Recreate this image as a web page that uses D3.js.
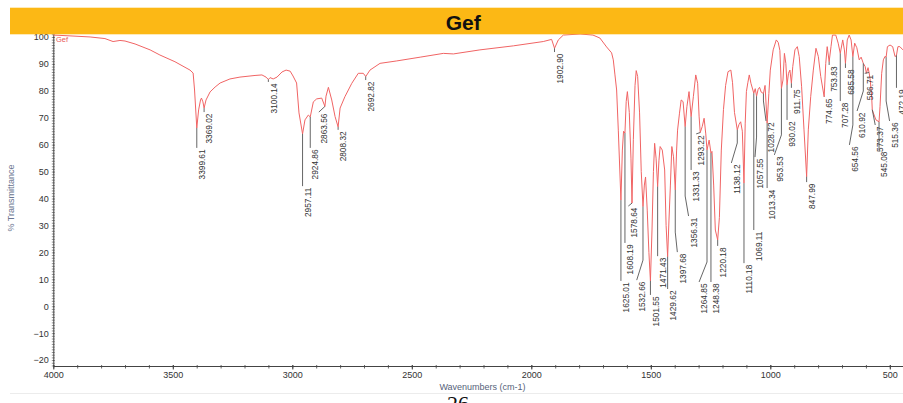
<!DOCTYPE html>
<html><head><meta charset="utf-8">
<script src="https://cdn.jsdelivr.net/npm/d3@7"></script>
<style>html,body{margin:0;padding:0;background:#fff;overflow:hidden}</style>
</head><body>
<svg id="c" width="903" height="403"></svg>
<script>
const wavenumbers = [4000,3930,3846,3784,3750,3721,3700,3658,3595,3554,3491,3428,3415,3409,3399.61,3392,3384,3380,3374,3369.02,3361,3344,3323,3302,3261,3219,3156,3127,3110,3100.14,3093,3080,3064,3043,3026,3009,2997,2982,2972,2957.11,2947,2933,2924.86,2912,2898,2877,2863.56,2859,2849,2835,2821,2808.32,2800,2780,2751,2724,2703,2692.82,2675,2633,2563,2465,2368,2326,2215,2075,1950,1915,1902.90,1887,1866,1796,1742,1713,1685,1664,1657,1650,1643,1636,1625.01,1619,1614,1608.19,1603,1598,1590,1583,1578.64,1573,1566,1561,1555,1547,1540,1532.66,1527,1522,1515,1508,1501.55,1495,1489,1484,1478,1471.43,1466,1461,1452,1442,1436,1429.62,1424,1418,1412,1405,1397.68,1392,1388,1380,1373,1365,1356.31,1349,1340,1331.33,1322,1312,1304,1298,1293.22,1285,1277,1270,1264.85,1256,1248.38,1244,1237,1230,1220.18,1213,1205,1196,1187,1177,1165,1158,1150,1138.12,1131,1124,1117,1110.18,1105,1100,1094,1088,1081,1069.11,1063,1057.55,1051,1045,1038,1028.72,1022,1013.34,1006,1000,988,975,967,960,953.53,947,941,935,930.02,924,918,911.75,906,897,887,879,869,859,847.99,841,831,820,809,799,789,774.65,768,762,753.83,746,740,726,716,707.28,697,690,685.58,678,670,662,654.56,647,638,628,620,610.92,603,598,591,586.71,582,576,573.37,569,558,545.08,541,534,527,520,515.36,510,499,488,478,472.19,466,458,445];
const transmittance = [100.7,100.4,100.0,99.4,98.3,98.7,98.5,97.4,95.2,93.3,90.8,87.7,86.6,80.3,66.2,72.9,76.6,77.3,75.9,73.6,76.6,79.6,81.4,82.9,84.4,85.1,85.7,85.9,85.1,84.2,84.9,84.4,85.1,87.0,87.7,87.3,85.5,82.9,71.8,64.0,69.2,71.0,70.3,75.9,77.0,77.3,74.2,78.0,81.3,76.6,70.4,66.6,73.6,77.8,82.8,86.5,86.5,85.3,87.7,90.2,91.1,92.5,93.9,93.7,95.2,96.7,98.3,99.1,95.8,98.9,100.7,101.1,100.7,99.6,96.3,94.1,91.5,85.9,80.3,65.4,39.4,58,65,64.3,76,79.7,72,55,38.3,62,82,87.5,85.3,71.8,50,37,45,48,35.7,20,9.4,28.3,50,60.5,55,44.4,54,59.3,58,50.6,30,18.4,32,45,59.3,55.5,43.2,58,65.4,71.7,76.6,76,66.7,74.1,79.7,70.4,77.8,85.9,82.8,70.6,64.5,66.7,69.8,64,58,61.7,56.9,57.5,45,28.3,24.6,33,58,73,82,87.1,87.7,83,72,65.5,67.5,68.5,65,45.7,68,79.7,83,85.9,82.8,79.1,80.8,78,80.5,81.3,79.5,79,82,68,79,87.7,95.2,98.9,98,95,80.9,84,93.9,90.2,82.2,86.5,87.7,82.8,89,95.2,96.4,92.7,81.5,65.5,48.1,65.5,77.8,87.7,95.8,92.7,85.3,77.8,90.2,96.4,90.8,96.4,100.7,100.7,97.7,93.9,98.9,95.2,90.2,98.9,100.7,98.9,92.7,97.7,96,91.5,92.5,90.2,89,86.5,88.6,86.8,84,78,73,71.8,69.2,68.5,74.1,86.5,91.5,92.8,92.5,96.4,97,96.4,92.7,93.2,96.4,96.4,95.2];

const peakWn      = [3399.61,3369.02,3100.14,2957.11,2924.86,2863.56,2808.32,2692.82,1902.90,1625.01,1608.19,1578.64,1532.66,1501.55,1471.43,1429.62,1397.68,1356.31,1331.33,1293.22,1264.85,1248.38,1220.18,1138.12,1110.18,1069.11,1057.55,1028.72,1013.34,953.53,930.02,911.75,847.99,774.65,753.83,707.28,685.58,654.56,610.92,586.71,573.37,545.08,515.36,472.19];
const peakLabelT  = [58.8,72.1,83.3,44.6,58.8,72.1,65.5,84.0,94.4,9.4,23.5,37.2,9.7,4.2,18.6,6.4,20.1,33.5,50.6,64.0,9.0,9.0,22.4,53.2,16.0,28.3,55.4,68.8,43.9,56.2,69.2,81.1,46.1,77.7,89.6,76.2,88.5,59.9,72.5,86.5,67.3,58.0,68.8,81.1];
const peakLabelWn = [3399.61,3369.02,3100.14,2957.11,2924.86,2889,2808.32,2692.82,1902.90,1625.01,1608.19,1594,1559,1501.55,1471.43,1429.62,1389,1342,1331.33,1310,1298,1248.38,1220.18,1163,1110.18,1069.11,1064,1018,1013.34,983,930.02,911.75,847.99,774.65,753.83,707.28,685.58,669,637,605,561,545.08,501,472.19];

const xTicks = [4000,3500,3000,2500,2000,1500,1000,500];
const yTicks = [-20,-10,0,10,20,30,40,50,60,70,80,90,100];
const titleText = "Gef";
const seriesName = "Gef";
const xTitle = "Wavenumbers (cm-1)";
const yTitle = "% Transmittance";
const pageNumber = "26";

const svg = d3.select("#c");
const FONT = "'Liberation Sans', Arial, sans-serif";
const fmt = d3.format("d");

const x = d3.scaleLinear().domain([4000, 444.8]).range([53.3, 903]);
const y = d3.scaleLinear().domain([-22.2, 101.1]).range([366, 34]);

// faint page line
svg.append("line").attr("x1",10).attr("x2",903).attr("y1",393.5).attr("y2",393.5)
  .attr("stroke","#ececec").attr("stroke-width",1);

// clip
svg.append("defs").append("clipPath").attr("id","pc").append("rect")
  .attr("x",53.3).attr("y",30).attr("width",850).attr("height",336);

// minor y ticks
const yMinor = d3.range(-22, 102, 1);
const gyMinor = svg.append("g").attr("transform","translate(53.3,0)")
  .call(d3.axisLeft(y).tickValues(yMinor).tickSize(1.5).tickSizeOuter(0).tickFormat(""));
gyMinor.select(".domain").remove();
gyMinor.selectAll(".tick line").attr("x2", 1.5).attr("x1",-1.5).attr("stroke","#777").attr("stroke-width",0.8);

// minor x ticks
const xMinor = d3.range(4000, 440, -100);
const gxMinor = svg.append("g").attr("transform","translate(0,366)")
  .call(d3.axisBottom(x).tickValues(xMinor).tickSize(2.5).tickSizeOuter(0).tickFormat(""));
gxMinor.select(".domain").remove();
gxMinor.selectAll(".tick line").attr("y1",-1).attr("stroke","#666");

// y axis
const gy = svg.append("g").attr("transform","translate(53.3,0)")
  .call(d3.axisLeft(y).tickValues(yTicks).tickSize(3.5).tickSizeOuter(0).tickPadding(1).tickFormat(fmt));
gy.select(".domain").attr("stroke","#444");
gy.selectAll(".tick line").attr("stroke","#444").attr("x2",1);
gy.selectAll(".tick text").attr("font-family",FONT).attr("font-size","9px").attr("fill","#333");

// x axis
const gx = svg.append("g").attr("transform","translate(0,366)")
  .call(d3.axisBottom(x).tickValues(xTicks).tickSize(3.5).tickSizeOuter(0).tickPadding(2).tickFormat(fmt));
gx.select(".domain").attr("stroke","#444");
gx.selectAll(".tick line").attr("stroke","#444").attr("y1",-1);
gx.selectAll(".tick text").attr("font-family",FONT).attr("font-size","9px").attr("fill","#333");

// curve
const pts = wavenumbers.map((w,i)=>[w, transmittance[i]]);
svg.append("path").datum(pts)
  .attr("clip-path","url(#pc)")
  .attr("fill","none").attr("stroke","#f06464").attr("stroke-width",1)
  .attr("stroke-linejoin","round")
  .attr("d", d3.line().x(d=>x(d[0])).y(d=>y(d[1])));

function curveAt(w){
  for (let i=0;i<wavenumbers.length-1;i++){
    const a=wavenumbers[i], b=wavenumbers[i+1];
    if (w<=a && w>=b){ const t=(a-w)/(a-b); return transmittance[i]+(transmittance[i+1]-transmittance[i])*t; }
  }
  return transmittance[transmittance.length-1];
}

// peak labels
const gl = svg.append("g").attr("clip-path","url(#pc)");
peakWn.forEach((w,i)=>{
  const px = x(w), py0 = y(curveAt(w));
  const lx = x(peakLabelWn[i]), ly = y(peakLabelT[i]);
  let path;
  if (Math.abs(lx-px) < 0.6) path = `M${px},${py0}L${px},${ly}`;
  else {
    const mid = Math.max(py0, ly - 20);
    path = `M${px},${py0}L${px},${mid}L${lx},${ly}`;
  }
  gl.append("path").attr("d",path).attr("fill","none").attr("stroke","#555").attr("stroke-width",0.9);
  gl.append("text")
    .attr("transform",`translate(${lx+8.2},${ly+1.5}) rotate(-90)`)
    .attr("text-anchor","end")
    .attr("font-family",FONT).attr("font-size","8.3px").attr("fill","#333")
    .text(w.toFixed(2));
});

// series name
svg.append("text").attr("x",56).attr("y",42).attr("font-family",FONT)
  .attr("font-size","7.5px").attr("fill","#e85a5a").text(seriesName);

// banner
svg.append("rect").attr("x",10).attr("y",7.7).attr("width",893).attr("height",26.6).attr("fill","#fcb815");
svg.append("text").attr("x",463.3).attr("y",29.6).attr("text-anchor","middle")
  .attr("font-family",FONT).attr("font-weight","bold").attr("font-size","21px")
  .attr("fill","#111").text(titleText);

// axis titles
svg.append("text").attr("x",482.5).attr("y",390).attr("text-anchor","middle")
  .attr("font-family",FONT).attr("font-size","9px").attr("fill","#56627a").text(xTitle);
svg.append("text").attr("transform","translate(13.5,198) rotate(-90)").attr("text-anchor","middle")
  .attr("font-family",FONT).attr("font-size","9px").attr("fill","#6a7590").text(yTitle);

// page number (cut off at the bottom edge, as in the reference)
svg.append("text").attr("x",458).attr("y",411).attr("text-anchor","middle")
  .attr("font-family","'Liberation Serif', 'Times New Roman', serif").attr("font-size","22px")
  .attr("fill","#111").text(pageNumber);
</script>
</body></html>
